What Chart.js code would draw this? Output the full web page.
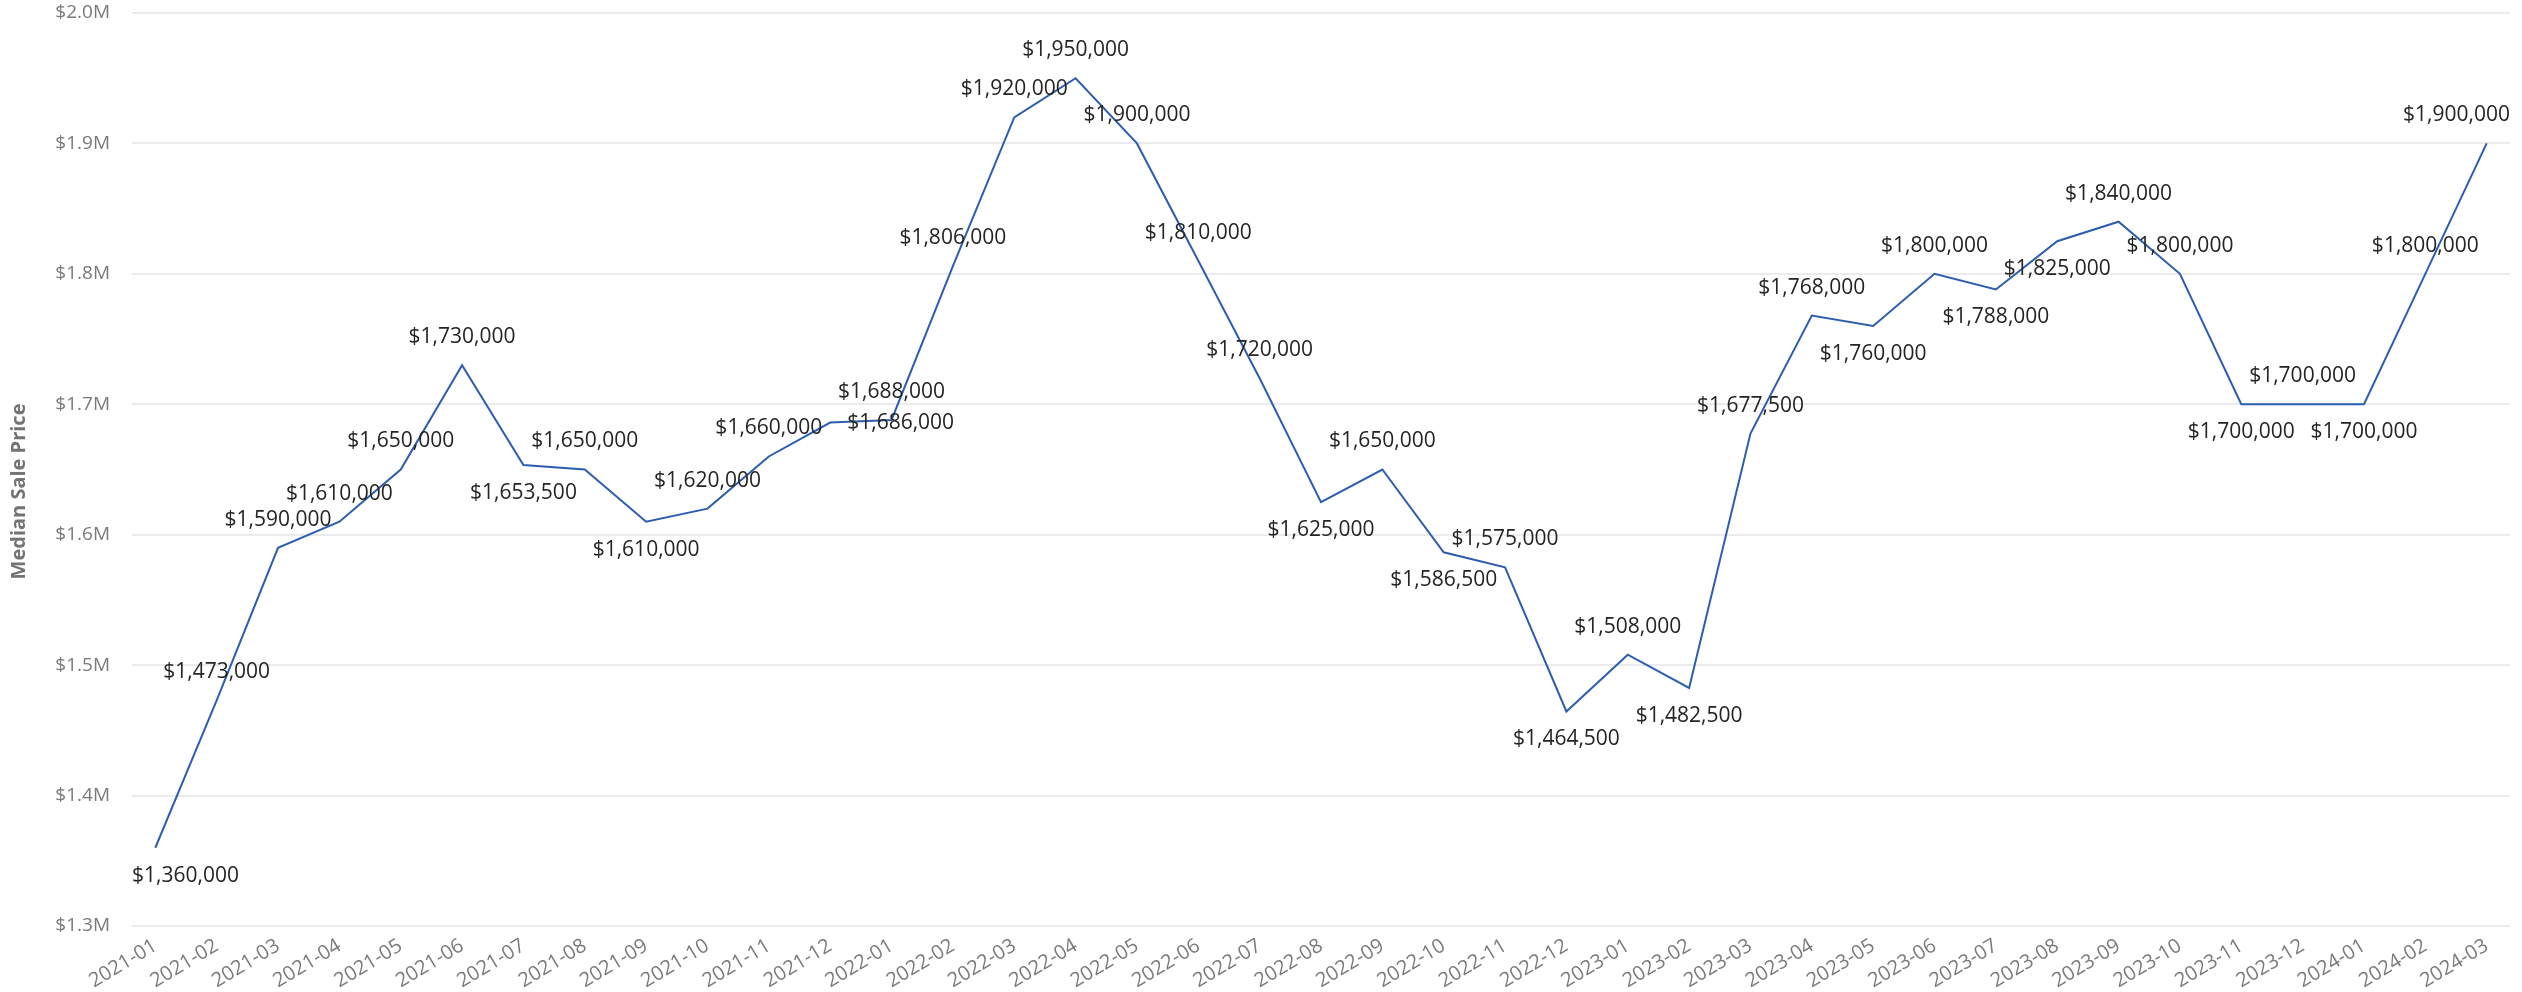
<!DOCTYPE html>
<html>
<head>
<meta charset="utf-8">
<script src="https://cdn.jsdelivr.net/npm/chart.js@4.4.1/dist/chart.umd.min.js"></script>
<style>
  html, body { margin: 0; padding: 0; background: #ffffff; }
  #wrap { width: 2522px; height: 992px; position: relative; }
</style>
</head>
<body>
<div id="wrap"><canvas id="chart"></canvas></div>
<script>
// Monthly median sale price
const months = [
  '2021-01','2021-02','2021-03','2021-04','2021-05','2021-06','2021-07','2021-08','2021-09','2021-10','2021-11','2021-12',
  '2022-01','2022-02','2022-03','2022-04','2022-05','2022-06','2022-07','2022-08','2022-09','2022-10','2022-11','2022-12',
  '2023-01','2023-02','2023-03','2023-04','2023-05','2023-06','2023-07','2023-08','2023-09','2023-10','2023-11','2023-12',
  '2024-01','2024-02','2024-03'
];
const prices = [
  1360000, 1473000, 1590000, 1610000, 1650000, 1730000, 1653500, 1650000, 1610000, 1620000, 1660000, 1686000,
  1688000, 1806000, 1920000, 1950000, 1900000, 1810000, 1720000, 1625000, 1650000, 1586500, 1575000, 1464500,
  1508000, 1482500, 1677500, 1768000, 1760000, 1800000, 1788000, 1825000, 1840000, 1800000, 1700000, 1700000,
  1700000, 1800000, 1900000
];
const yTicks = [1300000, 1400000, 1500000, 1600000, 1700000, 1800000, 1900000, 2000000];
const yTitle = 'Median Sale Price';

// Where each value label sits relative to its point
const labelSide = [
  'below','above','above','above','above','above','below','above','below','above','above','right',
  'above','above','above','above','above','above','above','below','above','below','above','below',
  'above','below','above','above','below','above','below','below','above','above','below','above',
  'below','above','above'
];

const FONT = '"Segoe UI", "Open Sans", "Noto Sans", sans-serif';
const money = v => '$' + Math.round(v).toLocaleString('en-US');

// Value labels next to each point, kept inside the plot area
const valueLabels = {
  id: 'valueLabels',
  afterDatasetsDraw(chart) {
    const { ctx, chartArea } = chart;
    const meta = chart.getDatasetMeta(0);
    ctx.save();
    ctx.font = '21px ' + FONT;
    ctx.fillStyle = '#252423';
    ctx.textAlign = 'center';
    ctx.textBaseline = 'middle';
    meta.data.forEach((pt, i) => {
      const text = money(prices[i]);
      const w = ctx.measureText(text).width;
      let x = pt.x, y = pt.y;
      const side = labelSide[i];
      if (side === 'above') y -= 28;
      else if (side === 'below') y += 28;
      else if (side === 'right') x += 17 + w / 2;
      x = Math.min(Math.max(x, chartArea.left + w / 2), chartArea.right - w / 2);
      ctx.fillText(text, x, y);
    });
    ctx.restore();
  }
};

// Rotated y-axis title at the far left
const axisTitle = {
  id: 'axisTitle',
  afterDraw(chart) {
    const { ctx, chartArea } = chart;
    ctx.save();
    ctx.translate(19, (chartArea.top + chartArea.bottom) / 2 + 22);
    ctx.rotate(-Math.PI / 2);
    ctx.font = 'bold 20px ' + FONT;
    ctx.fillStyle = '#737373';
    ctx.textAlign = 'center';
    ctx.textBaseline = 'middle';
    ctx.fillText(yTitle, 0, 0);
    ctx.restore();
  }
};

new Chart(document.getElementById('chart'), {
  type: 'line',
  data: {
    datasets: [{
      label: yTitle,
      data: prices.map((v, i) => ({ x: i, y: v })),
      borderColor: '#2D5DB0',
      borderWidth: 2,
      tension: 0,
      pointRadius: 0,
      pointHoverRadius: 0,
      fill: false
    }]
  },
  options: {
    responsive: true,
    maintainAspectRatio: false,
    devicePixelRatio: 1,
    animation: false,
    layout: { padding: { top: 13, right: 12, left: 0, bottom: 0 } },
    plugins: {
      legend: { display: false },
      tooltip: { enabled: false }
    },
    scales: {
      x: {
        type: 'linear',
        min: -0.38,
        max: months.length - 1 + 0.38,
        grid: { display: false, drawTicks: false },
        border: { display: false },
        afterBuildTicks: s => { s.ticks = months.map((_, i) => ({ value: i })); },
        afterFit: s => { s.height = 66; },
        ticks: {
          autoSkip: false,
          maxRotation: 31,
          minRotation: 31,
          padding: 8,
          color: '#7a7a7a',
          font: { family: FONT, size: 20 },
          callback: v => months[v]
        }
      },
      y: {
        min: 1300000,
        max: 2000000,
        afterBuildTicks: s => { s.ticks = yTicks.map(v => ({ value: v })); },
        afterFit: s => { s.width = 132; s.paddingTop = 0; s.paddingBottom = 0; },
        grid: { color: '#ebebeb', lineWidth: 2, drawTicks: false },
        border: { display: false },
        ticks: {
          padding: 22,
          color: '#7a7a7a',
          font: { family: FONT, size: 19 },
          callback: v => '$' + (v / 1e6).toFixed(1) + 'M'
        }
      }
    }
  },
  plugins: [valueLabels, axisTitle]
});
</script>
</body>
</html>
